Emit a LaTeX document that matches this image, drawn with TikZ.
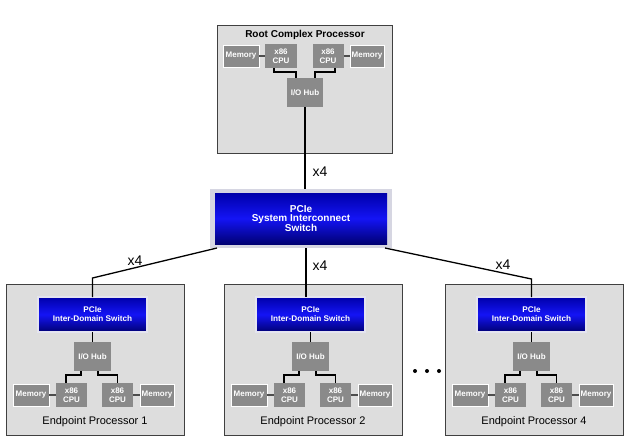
\documentclass[tikz,border=0pt]{standalone}
\usepackage{fontspec}
\setmainfont{Liberation Sans}
\definecolor{boxbg}{RGB}{221,221,221}
\definecolor{compgray}{RGB}{138,138,138}
\definecolor{blueTop}{RGB}{0,0,170}
\definecolor{blueMid}{RGB}{20,20,245}
\definecolor{blueBot}{RGB}{0,0,115}
\definecolor{swborder}{RGB}{228,228,240}
\definecolor{mswframe}{RGB}{214,214,226}
\begin{document}
\begin{tikzpicture}[x=1pt,y=-1pt,
  procbox/.style={draw=black!75, line width=0.8pt, fill=boxbg, inner sep=0pt, outer sep=0pt},
  comp/.style={fill=compgray, text=white, font=\fontsize{8}{9.5}\selectfont\bfseries, align=center, inner sep=0pt, outer sep=0pt, minimum height=24pt},
  mem/.style={comp, draw=white, line width=1pt, minimum height=22pt},
  hubbox/.style={comp, minimum height=29pt},
  bluesw/.style={top color=blueTop, bottom color=blueBot, middle color=blueMid, text=white, align=center, inner sep=0pt, outer sep=0pt},
  swbox/.style={bluesw, draw=swborder, line width=1.5pt, font=\fontsize{8.2}{9}\selectfont\bfseries},
  link/.style={line width=1.3pt, black},
  memlink/.style={line width=1.8pt, black!70},
  lbl/.style={font=\fontsize{14}{16}\selectfont, inner sep=0pt},
  eptitle/.style={font=\fontsize{11}{12}\selectfont, inner sep=0pt}
]
\useasboundingbox (0,0) rectangle (630,442);
\fill[white] (0,0) rectangle (630,442);

% Root complex processor
\node[procbox, minimum width=175pt, minimum height=128pt] (root) at (304.5,89) {};
\node[font=\fontsize{10}{11}\selectfont\bfseries, inner sep=0pt] (rootT) at (305,35) {Root Complex Processor};
\node[mem, minimum width=36pt] (rmemL) at (241,56) {Memory};
\node[comp, minimum width=32pt] (rcpuL) at (281,56) {x86\\CPU};
\node[comp, minimum width=31pt] (rcpuR) at (328,56) {x86\\CPU};
\node[mem, minimum width=34pt] (rmemR) at (367,56) {Memory};
\node[hubbox, minimum width=36pt] (rhub) at (305,92.5) {I/O Hub};
\draw[memlink] (rmemL.east) -- (rcpuL.west);
\draw[memlink] (rcpuR.east) -- (rmemR.west);
\draw[link] ([xshift=-7pt]rcpuL.south) -- ++(0,4) -| ([xshift=-9pt]rhub.north);
\draw[link] ([xshift=7pt]rcpuR.south) -- ++(0,4) -| ([xshift=10pt]rhub.north);

% Main switch
\node[minimum width=182pt, minimum height=59pt, fill=mswframe, inner sep=0pt, outer sep=0pt] (mswo) at (301,218.5) {};
\node[bluesw, minimum width=172pt, minimum height=51pt, font=\fontsize{10}{9.5}\selectfont\bfseries] (msw) at (301,218.5) {PCIe\\System Interconnect\\Switch};
\draw[link] (rhub.south) -- (rhub.south |- mswo.north);
\node[lbl] (x4top) at (320,172) {x4};

% Endpoint processors
\foreach \ox/\n in {6/1,224/2,445/4}{
  \node[procbox, minimum width=178pt, minimum height=151pt] (ep\n) at (\ox+89,359.5) {};
  \node[swbox, minimum width=109pt, minimum height=35pt] (sw\n) at (\ox+86.5,314.5) {PCIe\\Inter-Domain Switch};
  \node[hubbox, minimum width=37pt] (hub\n) at (\ox+86.5,356.5) {I/O Hub};
  \node[comp, minimum width=31pt] (cpuL\n) at (\ox+65.5,395) {x86\\CPU};
  \node[comp, minimum width=31pt] (cpuR\n) at (\ox+111.5,395) {x86\\CPU};
  \node[mem, minimum width=36pt] (memL\n) at (\ox+25,395) {Memory};
  \node[mem, minimum width=34pt] (memR\n) at (\ox+151,395) {Memory};
  \node[eptitle] (ept\n) at (\ox+89,422) {Endpoint Processor \n};
  \draw[link] (sw\n.south) -- (hub\n.north);
  \draw[link] ([xshift=-11.5pt]hub\n.south) -- ++(0,4) -| ([xshift=-5.5pt]cpuL\n.north);
  \draw[link] ([xshift=5.5pt]hub\n.south) -- ++(0,4) -| (cpuR\n.north);
  \draw[memlink] (memL\n.east) -- (cpuL\n.west);
  \draw[memlink] (cpuR\n.east) -- (memR\n.west);
}

% Connectors from main switch
\coordinate (b1) at (92.5,278);
\coordinate (b4) at (531.5,279);
\draw[link] ([xshift=7pt]mswo.south west) -- (b1) -- (sw1.north);
\draw[link] ([xshift=5pt]mswo.south) -- ([xshift=5pt]mswo.south |- sw2.north);
\draw[link] ([xshift=-7pt]mswo.south east) -- (b4) -- (sw4.north);
\node[lbl] (x4a) at (135,261) {x4};
\node[lbl] (x4b) at (320,266) {x4};
\node[lbl] (x4c) at (503,265) {x4};

% dots
\fill (415,371) circle (2pt);
\fill (427,371) circle (2pt);
\fill (439,371) circle (2pt);
\end{tikzpicture}
\end{document}
